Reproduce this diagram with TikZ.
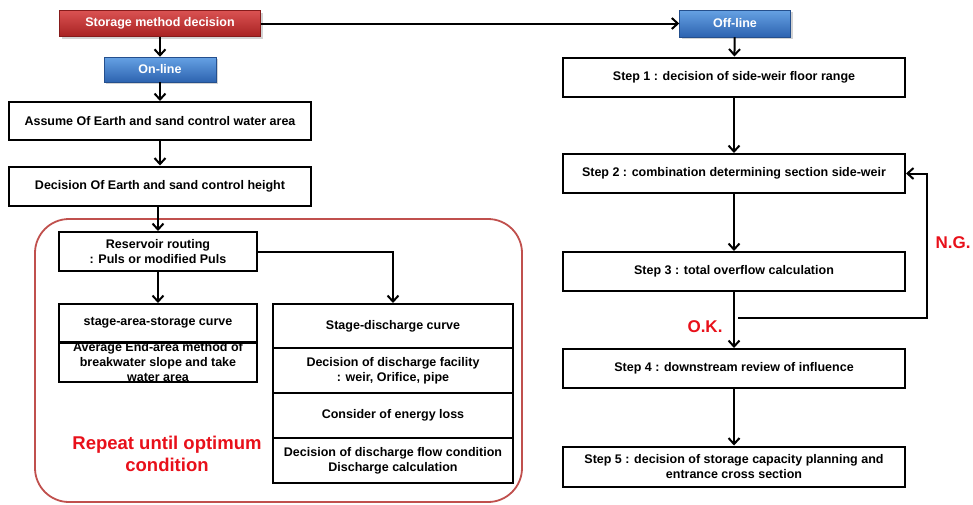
\documentclass[tikz,border=0pt]{standalone}
\usepackage{fontspec}
\setmainfont{Liberation Sans}
\usetikzlibrary{positioning, arrows.meta, shadows, backgrounds}
\definecolor{noteRed}{HTML}{E8101A}
\definecolor{frameRed}{HTML}{C0504D}
\definecolor{redTop}{HTML}{DA5252}
\definecolor{redBot}{HTML}{A82222}
\definecolor{blueTop}{HTML}{66A2E4}
\definecolor{blueBot}{HTML}{2D63B0}
\tikzset{
    stepbox/.style={rectangle, draw=black, line width=2pt, fill=white, inner sep=2pt, font=\bfseries\fontsize{12.5}{15}\selectfont, align=center},
    redhead/.style={rectangle, draw=redBot!80!black, line width=0.5pt, top color=redTop, bottom color=redBot, text=white, font=\bfseries\fontsize{12.5}{15}\selectfont, drop shadow={opacity=0.35, shadow xshift=2pt, shadow yshift=-2pt}},
    bluehead/.style={rectangle, draw=blueBot!80!black, line width=0.5pt, top color=blueTop, bottom color=blueBot, text=white, font=\bfseries\fontsize{12.5}{15}\selectfont, drop shadow={opacity=0.35, shadow xshift=2pt, shadow yshift=-2pt}},
    loopframe/.style={draw=frameRed, line width=1.8pt, rounded corners=34pt},
    note/.style={text=noteRed, font=\bfseries\fontsize{18.5}{22}\selectfont, align=center},
    line/.style={-{Straight Barb[length=6pt, width=11pt]}, line width=2pt}
}

\begin{document}
\begin{tikzpicture}[x=1pt, y=-1pt]
        	\useasboundingbox (0,0) rectangle (973,504);
        	% repeat loop frame
        	\draw[loopframe] (35,219) rectangle (522,502);
        	
        	% on-line branch
        	\node (store) [redhead, minimum width=201pt, minimum height=26pt] at (160,23.5) {Storage method decision};
        	\node (online) [bluehead, minimum width=112pt, minimum height=25pt] at (160,69.5) {On-line};
        	\node (assume) [stepbox, minimum width=302pt, minimum height=38pt] at (160,121) {Assume Of Earth and sand control water area};
        	\node (decide) [stepbox, minimum width=302pt, minimum height=39pt] at (160,186) {Decision Of Earth and sand control height};
        	\node (route) [stepbox, minimum width=198pt, minimum height=39pt, inner ysep=0pt] at (158,251.5) {Reservoir routing\\: Puls or modified Puls};
        	\node (sas) [stepbox, minimum width=198pt, minimum height=38pt] at (158,323) {stage-area-storage curve};
        	\node (avg) [stepbox, minimum width=198pt, minimum height=39pt, inner ysep=-3pt] at (158,362.5) {Average End-area method of\\breakwater slope and take\\water area};
        	\node (sdc) [stepbox, minimum width=240pt, minimum height=44pt] at (393,326) {Stage-discharge curve};
        	\node (facil) [stepbox, minimum width=240pt, minimum height=45pt] at (393,370.5) {Decision of discharge facility\\: weir, Orifice, pipe};
        	\node (loss) [stepbox, minimum width=240pt, minimum height=45pt] at (393,415.5) {Consider of energy loss};
        	\node (flow) [stepbox, minimum width=240pt, minimum height=45pt] at (393,460.5) {Decision of discharge flow condition\\Discharge calculation};
        	\node (repeat) [note] at (167,454) {Repeat until optimum\\condition};
        	
        	% off-line branch
        	\node (offline) [bluehead, minimum width=111pt, minimum height=27pt] at (735,23.5) {Off-line};
        	\node (s1) [stepbox, minimum width=342pt, minimum height=39pt] at (734,77) {Step 1 : decision of side-weir floor range};
        	\node (s2) [stepbox, minimum width=342pt, minimum height=39pt] at (734,173.5) {Step 2 : combination determining section side-weir};
        	\node (s3) [stepbox, minimum width=342pt, minimum height=39pt] at (734,271.5) {Step 3 : total overflow calculation};
        	\node (s4) [stepbox, minimum width=342pt, minimum height=39pt] at (734,368.5) {Step 4 : downstream review of influence};
        	\node (s5) [stepbox, minimum width=342pt, minimum height=40pt, inner ysep=0pt] at (734,466.5) {Step 5 : decision of storage capacity planning and\\entrance cross section};
        	\node (ng) [note, font=\bfseries\fontsize{17}{20}\selectfont] at (953,243) {N.G.};
        	\node (ok) [note, font=\bfseries\fontsize{17}{20}\selectfont] at (705,327) {O.K.};
        	\coordinate (ngturn) at (738,318);
        	
        	\draw[line] (store) -- (online);
        	\draw[line] (online) -- (assume);
        	\draw[line] (assume) -- (decide);
        	\draw[line] (decide.south -| route.north) -- (route.north);
        	\draw[line] (route) -- (sas);
        	\draw[line] (route.east) -| (sdc.north);
        	\draw[line] (store.east) -- (offline.west);
        	\draw[line] (offline) -- (s1);
        	\draw[line] (s1) -- (s2);
        	\draw[line] (s2) -- (s3);
        	\draw[line] (s3) -- (s4);
        	\draw[line] (s4) -- (s5);
        	\draw[line] (ngturn) -| ([xshift=21pt]s2.east) -- (s2.east);
        \end{tikzpicture}
\end{document}
